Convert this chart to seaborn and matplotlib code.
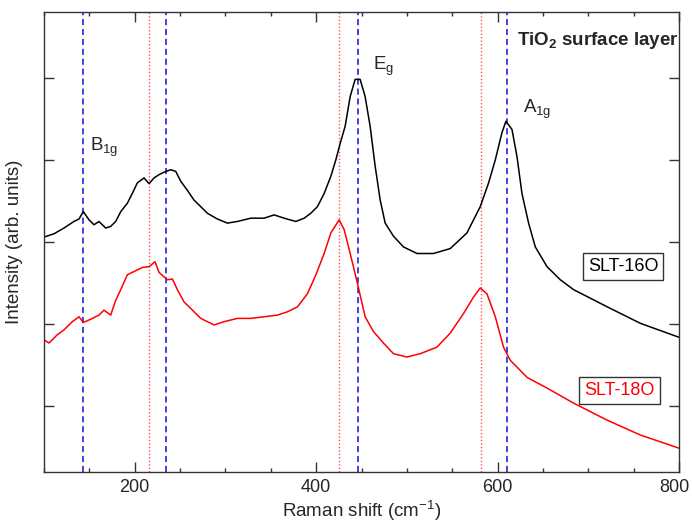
import numpy as np
import pandas as pd
import matplotlib
matplotlib.use('Agg')
import matplotlib.pyplot as plt
import matplotlib.transforms as mtransforms
import seaborn as sns
from matplotlib.ticker import MultipleLocator

# Raman spectra (cm-1, arb. units)
black_x = [100, 111, 122, 133, 138.6, 143.3, 149.6, 155.1, 160.6, 168, 173.5, 179, 184.6, 191.8, 197.3, 202.9,
           210.3, 215.8, 221.3, 226.8, 232.3, 239.7, 245.2, 250.7, 258, 265.4, 272.8, 280.1, 291.1, 302.1, 313.2,
           328, 342.6, 353.7, 364.7, 377.6, 386.8, 394.1, 401.4, 408.8, 416.2, 421.7, 426.5, 432, 437.5, 443,
           448.5, 454, 459.5, 465.1, 470.6, 476.1, 485.3, 496.3, 511.1, 529.4, 547.8, 566.2, 580.9, 590.1, 597.5,
           604.8, 609.2, 615.9, 621.4, 626.9, 634.2, 641.6, 654.5, 669.2, 683.8, 721, 757.4, 800]
black_y = [3.06, 3.10, 3.17, 3.25, 3.28, 3.37, 3.27, 3.21, 3.25, 3.17, 3.19, 3.25, 3.37, 3.47, 3.59, 3.72,
           3.78, 3.71, 3.78, 3.82, 3.85, 3.88, 3.86, 3.74, 3.63, 3.51, 3.43, 3.35, 3.28, 3.23, 3.25,
           3.29, 3.29, 3.33, 3.29, 3.25, 3.29, 3.35, 3.43, 3.59, 3.80, 4.00, 4.20, 4.41, 4.77, 4.98,
           4.98, 4.77, 4.41, 3.92, 3.51, 3.23, 3.07, 2.94, 2.86, 2.86, 2.92, 3.11, 3.43, 3.72, 4.00,
           4.33, 4.47, 4.37, 4.04, 3.59, 3.23, 2.94, 2.70, 2.54, 2.42, 2.21, 2.01, 1.84]

red_x = [100, 105.5, 114.6, 122, 131.2, 138.6, 143.3, 151.5, 160.6, 166.1, 173.5, 179, 184.6, 191.8, 199.2,
         208.4, 215.8, 222.4, 226.8, 236, 241.5, 247, 254.4, 261.8, 272.8, 287.5, 298.5, 313.2, 328, 342.6,
         357.3, 368.3, 379.4, 390.4, 399.7, 408.8, 416.2, 425.4, 430.9, 433.9, 441.1, 446.7, 454, 463.2, 474.2,
         485.3, 500, 514.7, 533.1, 547.8, 562.5, 573.5, 580.9, 588.3, 597.5, 606.6, 614, 632.7, 654.8, 683.5,
         721, 757.4, 800]
red_y = [1.81, 1.77, 1.87, 1.93, 2.03, 2.09, 2.02, 2.06, 2.11, 2.17, 2.11, 2.29, 2.42, 2.60, 2.64,
         2.69, 2.70, 2.76, 2.63, 2.54, 2.55, 2.42, 2.27, 2.19, 2.07, 1.99, 2.03, 2.07, 2.07, 2.09,
         2.11, 2.15, 2.21, 2.37, 2.60, 2.86, 3.11, 3.27, 3.15, 3.02, 2.70, 2.44, 2.09, 1.91, 1.77,
         1.64, 1.60, 1.64, 1.72, 1.89, 2.13, 2.33, 2.44, 2.37, 2.09, 1.72, 1.56, 1.35, 1.22, 1.04,
         0.83, 0.65, 0.49]

# TiO2 mode positions (blue) and shifted modes (red)
blue_lines = [143, 234, 446, 610]
red_lines = [216, 425, 582]

sns.set_style('ticks')
plt.rcParams['font.family'] = ['Liberation Sans', 'DejaVu Sans']
plt.rcParams['mathtext.fontset'] = 'custom'
plt.rcParams['mathtext.rm'] = 'Liberation Sans'
plt.rcParams['mathtext.it'] = 'Liberation Sans:italic'
plt.rcParams['mathtext.bf'] = 'Liberation Sans:bold'

df = pd.concat([
    pd.DataFrame({'shift': black_x, 'intensity': black_y, 'sample': 'SLT-16O'}),
    pd.DataFrame({'shift': red_x, 'intensity': red_y, 'sample': 'SLT-18O'}),
])

fig = plt.figure(figsize=(6.92, 5.22), dpi=100)
ax = fig.add_axes([0.0636, 0.0958, 0.9176, 0.8812])

for x in red_lines:
    ax.axvline(x, color='#ff5050', ls=(0, (1, 1.5)), lw=1.0)
for x in blue_lines:
    ax.axvline(x, color='#1010dd', ls=(0, (4, 2.5)), lw=1.1)

sns.lineplot(data=df, x='shift', y='intensity', hue='sample',
             palette={'SLT-16O': 'black', 'SLT-18O': '#ff0000'},
             lw=1.1, legend=False, ax=ax, estimator=None, sort=False)

ax.set_xlim(100, 800)
ax.set_ylim(0.2, 5.8)
ax.xaxis.set_major_locator(MultipleLocator(200))
ax.xaxis.set_minor_locator(MultipleLocator(50))
ax.set_yticks([1, 2, 3, 4, 5])
ax.set_yticklabels([])
ax.tick_params(which='both', direction='in', top=True, right=True, color='#333333')
ax.tick_params(which='major', length=7, width=1, labelsize=13, pad=5)
ax.tick_params(which='minor', length=3, width=1)
for s in ax.spines.values():
    s.set_color('#333333')
    s.set_linewidth(1)

# keep the last tick label ("800") inside the figure edge
fig.canvas.draw()
last = [t for t in ax.get_xticklabels() if t.get_text() == '800']
for t in last:
    t.set_transform(t.get_transform() + mtransforms.ScaledTranslation(-3 / 72, 0, fig.dpi_scale_trans))

ax.set_xlabel(r'Raman shift (cm$^{-1}$)', fontsize=13.5, labelpad=2)
ax.set_ylabel('Intensity (arb. units)', fontsize=13.5, labelpad=10)

ax.text(151, 4.15, r'B$_{\mathrm{1g}}$', fontsize=13.5, va='center')
ax.text(463, 5.14, r'E$_{\mathrm{g}}$', fontsize=13.5, va='center')
ax.text(628, 4.61, r'A$_{\mathrm{1g}}$', fontsize=13.5, va='center')
ax.text(621, 5.45, r'TiO$_{\mathbf{2}}$ surface layer', fontsize=13.5, fontweight='bold', va='center')

box = dict(boxstyle='square,pad=0.28', fc='white', ec='#333333', lw=1)
ax.text(0.912, 0.446, 'SLT-16O', transform=ax.transAxes, fontsize=13,
        ha='center', va='center', color='black', bbox=box)
ax.text(0.906, 0.177, 'SLT-18O', transform=ax.transAxes, fontsize=13,
        ha='center', va='center', color='#ff0000', bbox=box)

fig.savefig('out.png', dpi=100)
